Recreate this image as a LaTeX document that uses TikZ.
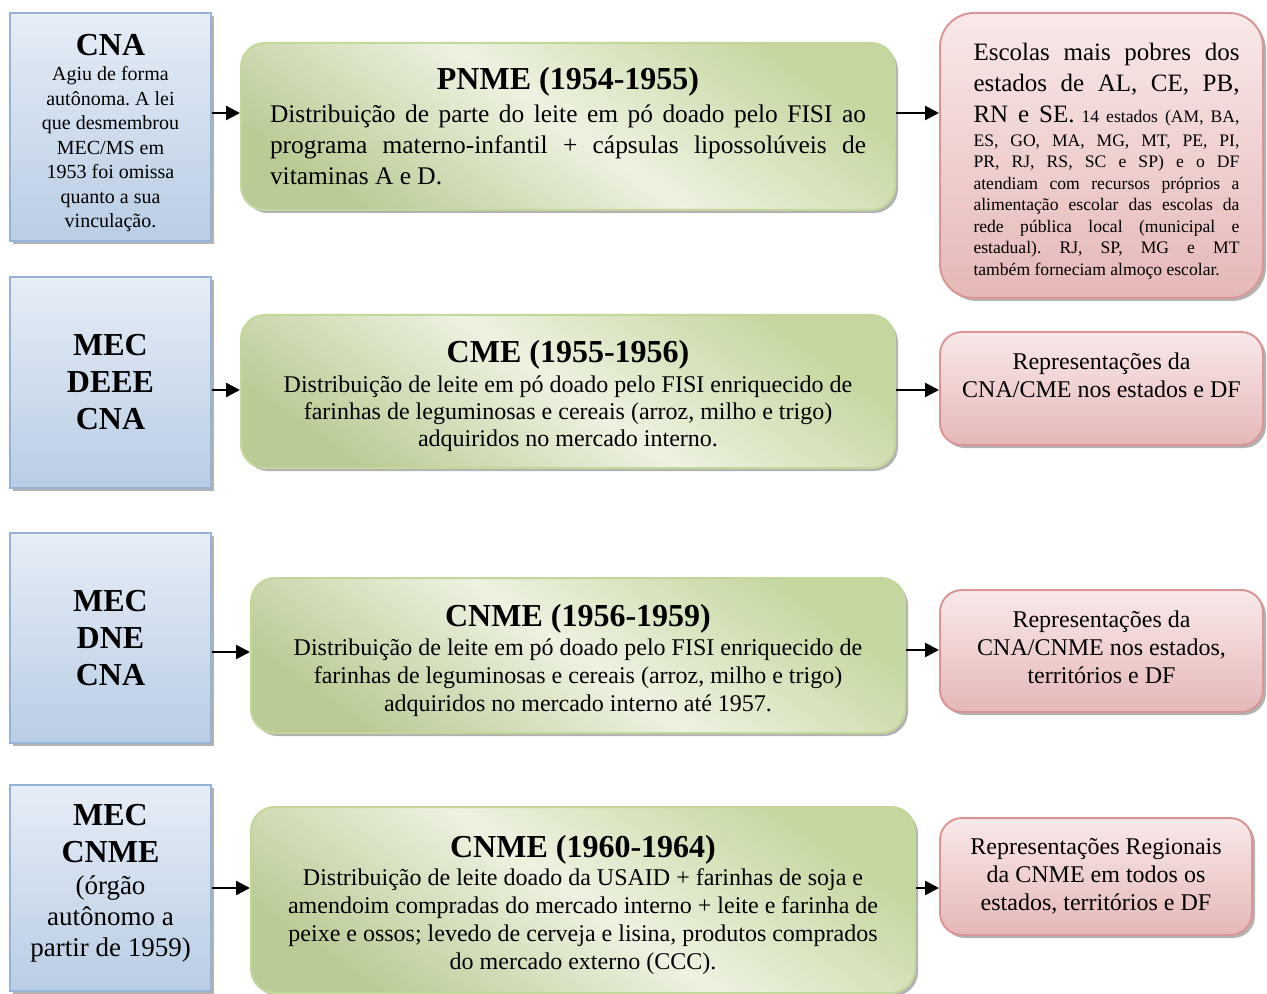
\documentclass[tikz,border=0pt]{standalone}
\usepackage{fontspec}
\setmainfont{Liberation Serif}
\usepackage{tikz}
\usetikzlibrary{arrows.meta,shadows,positioning,calc}
\definecolor{azulborda}{HTML}{95B3D7}
\definecolor{azulclaro}{HTML}{E6EDF6}
\definecolor{azulescuro}{HTML}{B9CDE5}
\definecolor{verdeborda}{HTML}{C3D69B}
\definecolor{verdeclaro}{HTML}{EDF2E1}
\definecolor{verdeescuro}{HTML}{C4D79E}
\definecolor{rosaborda}{HTML}{D99694}
\definecolor{rosaclaro}{HTML}{F9E9E9}
\definecolor{rosaescuro}{HTML}{E5B8B7}
\def\titulo{\fontsize{16}{19}\selectfont\bfseries}
\def\forte{\rule[-5pt]{0pt}{14.5pt}}
\frenchspacing

\begin{document}
\begin{tikzpicture}[x=0.5pt,y=-0.5pt,
  sombra/.style={drop shadow={shadow xshift=1.5pt,shadow yshift=-1.5pt,fill=black!55,opacity=.55}},
  orgao/.style={rectangle,draw=azulborda,line width=1pt,top color=azulclaro,bottom color=azulescuro,
    minimum width=100.5pt,align=center,sombra},
  programa/.style={rectangle,rounded corners=12pt,draw=verdeborda,line width=1pt,
    top color=verdeescuro,bottom color=verdeescuro!95!black,middle color=verdeclaro,shading angle=-35,
    minimum width=327pt,align=center,font=\fontsize{12}{13.5}\selectfont,sombra},
  repres/.style={rectangle,rounded corners=11pt,draw=rosaborda,line width=1pt,top color=rosaclaro,bottom color=rosaescuro,
    minimum width=161.5pt,align=center,font=\fontsize{12}{14}\selectfont,sombra},
  seta/.style={-{Triangle[length=7pt,width=7pt]},line width=1.2pt}]
\useasboundingbox (0,0) rectangle (1267,994);

\node[orgao,minimum height=114pt,font=\fontsize{10}{12.25}\selectfont,text depth=0pt] (org1) at (110.5,127)
  {{\titulo\rule{0pt}{14.5pt}CNA}\\[0.5pt]Agiu de forma\\autônoma. A lei\\que desmembrou\\MEC/MS em\\1953 foi omissa\\quanto a sua\\vinculação.};
\node[orgao,minimum height=105.5pt,font=\fontsize{16}{18.5}\selectfont\bfseries] (org2) at (110.5,382.5)
  {MEC\\DEEE\\CNA};
\node[orgao,minimum height=105pt,font=\fontsize{16}{18.5}\selectfont\bfseries] (org3) at (110.5,638)
  {MEC\\DNE\\CNA};
\node[orgao,minimum height=103pt,font=\fontsize{13.5}{15.5}\selectfont,text depth=8pt] (org4) at (110.5,888)
  {{\titulo MEC}\\[3pt]{\titulo CNME}\\[0.5pt](órgão\\autônomo a\\partir de 1959)};

\node[programa,minimum height=83.5pt,text width=298pt,align=justify,font=\fontsize{12.7}{15.5}\selectfont] (prog1) at (568,126.5)
  {\makebox[\linewidth]{\titulo PNME (1954-1955)}\\[1pt]
   Distribuição de parte do leite em pó doado pelo FISI ao\linebreak
   programa materno-infantil + cápsulas lipossolúveis de\linebreak
   vitaminas A e D.};
\node[programa,minimum height=76.5pt,text depth=0pt] (prog2) at (568,391.5)
  {{\titulo\rule{0pt}{13pt}CME (1955-1956)}\\[1.75pt]
   Distribuição de leite em pó doado pelo FISI enriquecido de\\
   farinhas de leguminosas e cereais (arroz, milho e trigo)\\
   adquiridos no mercado interno.};
\node[programa,minimum height=77.5pt,font=\fontsize{12}{14}\selectfont,text depth=0pt] (prog3) at (578,655.5)
  {{\titulo\rule{0pt}{13pt}CNME (1956-1959)}\\[0.5pt]
   Distribuição de leite em pó doado pelo FISI enriquecido de\\
   farinhas de leguminosas e cereais (arroz, milho e trigo)\\
   adquiridos no mercado interno até 1957.};
\node[programa,minimum width=332pt,minimum height=93pt,font=\fontsize{12}{14}\selectfont,text depth=0pt] (prog4) at (583,900)
  {{\titulo\rule{0pt}{13pt}CNME (1960-1964)}\\[0pt]
   Distribuição de leite doado da USAID + farinhas de soja e\\
   amendoim compradas do mercado interno + leite e farinha de\\
   peixe e ossos; levedo de cerveja e lisina, produtos comprados\\
   do mercado externo (CCC).};

\node[repres,rounded corners=17pt,minimum height=142.5pt,font=\fontsize{8.8}{10.75}\selectfont] (rep1) at (1101.5,155.5)
  {\hspace*{5pt}\parbox{133pt}{\parfillskip=0pt plus 1fil\tolerance=10000\hyphenpenalty=10000\relax
   {\fontsize{12.5}{15.5}\selectfont\rule[-5pt]{0pt}{19.5pt}Escolas mais pobres dos\linebreak
   \forte estados de AL, CE, PB,\linebreak
   \forte RN e SE.} 14 estados (AM, BA,\linebreak
   ES, GO, MA, MG, MT, PE, PI,\linebreak
   PR, RJ, RS, SC e SP) e o DF\linebreak
   atendiam com recursos próprios a\linebreak
   alimentação escolar das escolas da\linebreak
   rede pública local (municipal e\linebreak
   estadual). RJ, SP, MG e MT\linebreak
   também forneciam almoço escolar.}};
\node[repres,minimum height=56.5pt,text depth=13.5pt] (rep2) at (1101.5,388.5)
  {Representações da\\CNA/CME nos estados e DF};
\node[repres,minimum height=61pt,text depth=4pt] (rep3) at (1101.5,651)
  {Representações da\\CNA/CNME nos estados,\\territórios e DF};
\node[repres,minimum width=156pt,minimum height=58.5pt] (rep4) at (1096,876.5)
  {Representações Regionais\\da CNME em todos os\\estados, territórios e DF};

\coordinate (n1) at (0,113);
\coordinate (n2) at (0,390);
\coordinate (n3) at (0,652);
\coordinate (n3b) at (0,650);
\coordinate (n4) at (0,888);

\draw[seta] (org1.east |- n1) -- (prog1.west |- n1);
\draw[seta] (org2.east |- n2) -- (prog2.west |- n2);
\draw[seta] (org3.east |- n3) -- (prog3.west |- n3);
\draw[seta] (org4.east |- n4) -- (prog4.west |- n4);
\draw[seta] (prog1.east |- n1) -- (rep1.west |- n1);
\draw[seta] (prog2.east |- n2) -- (rep2.west |- n2);
\draw[seta] (prog3.east |- n3b) -- (rep3.west |- n3b);
\draw[seta] (prog4.east |- n4) -- (rep4.west |- n4);
\end{tikzpicture}
\end{document}
